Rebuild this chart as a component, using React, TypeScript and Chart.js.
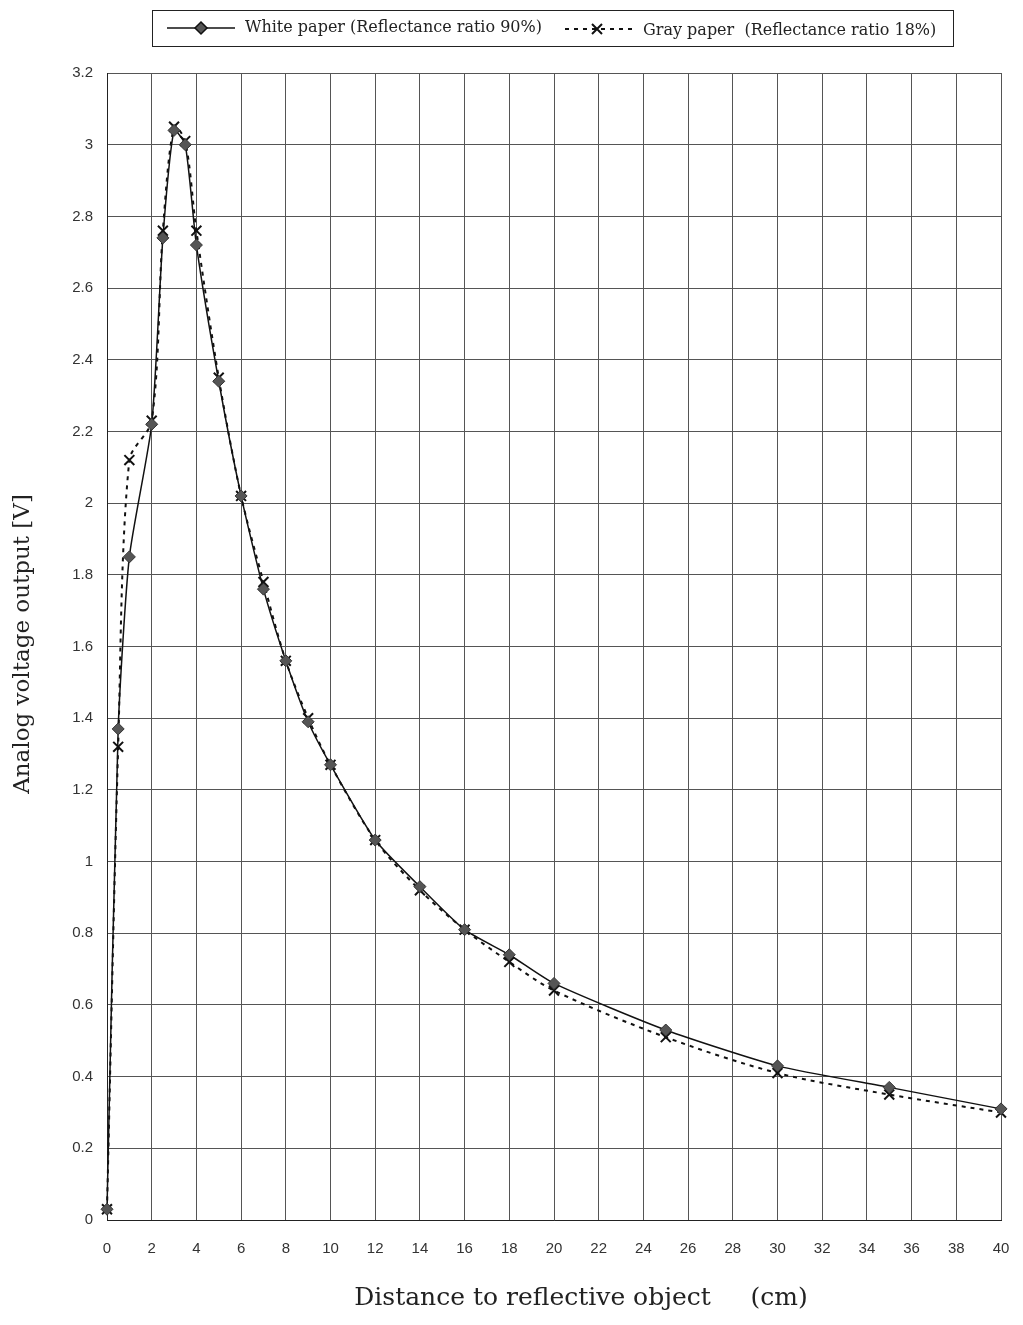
import React, { useEffect, useRef } from "react";
import { Chart, registerables } from "chart.js";

Chart.register(...registerables);

const distances = [0, 0.5, 1, 2, 2.5, 3, 3.5, 4, 5, 6, 7, 8, 9, 10, 12, 14, 16, 18, 20, 25, 30, 35, 40];
const whitePaper = [0.03, 1.37, 1.85, 2.22, 2.74, 3.04, 3.0, 2.72, 2.34, 2.02, 1.76, 1.56, 1.39, 1.27, 1.06, 0.93, 0.81, 0.74, 0.66, 0.53, 0.43, 0.37, 0.31];
const grayPaper = [0.03, 1.32, 2.12, 2.23, 2.76, 3.05, 3.01, 2.76, 2.35, 2.02, 1.78, 1.56, 1.4, 1.27, 1.06, 0.92, 0.81, 0.72, 0.64, 0.51, 0.41, 0.35, 0.3];
const whiteLabel = "White paper (Reflectance ratio 90%)";
const grayLabel = "Gray paper  (Reflectance ratio 18%)";
const xTitle = "Distance to reflective object     (cm)";
const yTitle = "Analog voltage output [V]";

const SERIF = "'DejaVu Serif', 'Liberation Serif', serif";
const SANS = "'Liberation Sans', Arial, sans-serif";

const decorPlugin = {
  id: "decor",
  afterDraw(chart: any) {
    const ctx = chart.ctx;
    ctx.save();
    // legend box
    ctx.strokeStyle = "#222";
    ctx.lineWidth = 1;
    ctx.strokeRect(152.5, 10.5, 801, 36);
    // white sample
    ctx.beginPath();
    ctx.moveTo(167, 28);
    ctx.lineTo(235, 28);
    ctx.lineWidth = 1.5;
    ctx.strokeStyle = "#111";
    ctx.setLineDash([]);
    ctx.stroke();
    ctx.fillStyle = "#555";
    ctx.beginPath();
    ctx.moveTo(201, 22);
    ctx.lineTo(207, 28);
    ctx.lineTo(201, 34);
    ctx.lineTo(195, 28);
    ctx.closePath();
    ctx.fill();
    ctx.stroke();
    // gray sample
    ctx.beginPath();
    ctx.setLineDash([4, 5]);
    ctx.lineWidth = 2;
    ctx.moveTo(565, 29);
    ctx.lineTo(632, 29);
    ctx.stroke();
    ctx.setLineDash([]);
    ctx.beginPath();
    ctx.moveTo(592, 24);
    ctx.lineTo(602, 34);
    ctx.moveTo(602, 24);
    ctx.lineTo(592, 34);
    ctx.stroke();
    ctx.fillStyle = "#222";
    ctx.font = "16px " + SERIF;
    ctx.textBaseline = "middle";
    ctx.textAlign = "left";
    ctx.fillText(whiteLabel, 245, 28);
    ctx.fillText(grayLabel, 643, 31);
    // axis titles
    ctx.font = "25px " + SERIF;
    ctx.textAlign = "center";
    ctx.fillText(xTitle, 581, 1298);
    ctx.save();
    ctx.font = "23px " + SERIF;
    ctx.translate(23, 644);
    ctx.rotate(-Math.PI / 2);
    ctx.fillText(yTitle, 0, 0);
    ctx.restore();
    ctx.restore();
  },
};

export default function App() {
  const ref = useRef<HTMLCanvasElement>(null);
  useEffect(() => {
    const chart = new Chart(ref.current!, {
      type: "line",
      data: {
        datasets: [
          {
            label: whiteLabel,
            data: distances.map((x, i) => ({ x, y: whitePaper[i] })),
            borderColor: "#111",
            borderWidth: 1.5,
            tension: 0.2,
            clip: false,
            pointStyle: "rectRot",
            pointRadius: 6,
            pointBackgroundColor: "#555",
            pointBorderColor: "#333",
            pointBorderWidth: 1,
          },
          {
            label: grayLabel,
            data: distances.map((x, i) => ({ x, y: grayPaper[i] })),
            borderColor: "#111",
            borderWidth: 2,
            borderDash: [4, 5],
            tension: 0.3,
            clip: false,
            pointStyle: "crossRot",
            pointRadius: 7,
            pointBorderColor: "#111",
            pointBorderWidth: 2,
          },
        ],
      },
      options: {
        animation: false,
        responsive: false,
        layout: { padding: { top: 73, right: 22, left: 0, bottom: 0 } },
        plugins: { legend: { display: false }, tooltip: { enabled: false } },
        scales: {
          x: {
            type: "linear",
            min: 0,
            max: 40,
            afterFit(scale: any) {
              scale.height = 105;
              scale.paddingRight = 0;
              scale.paddingLeft = 0;
            },
            ticks: {
              stepSize: 2,
              color: "#333",
              font: { family: SANS, size: 15 },
              padding: 20,
              maxRotation: 0,
            },
            grid: { color: "#555", lineWidth: 1, drawTicks: false },
            border: { color: "#222", width: 1 },
          },
          y: {
            min: 0,
            max: 3.2,
            afterFit(scale: any) {
              scale.width = 107;
              scale.paddingTop = 0;
              scale.paddingBottom = 0;
            },
            ticks: {
              stepSize: 0.2,
              color: "#333",
              font: { family: SANS, size: 15 },
              padding: 14,
              callback: (v: any) => String(Number(Number(v).toFixed(1))),
            },
            grid: { color: "#555", lineWidth: 1, drawTicks: false },
            border: { color: "#222", width: 1 },
          },
        },
      },
      plugins: [decorPlugin],
    } as any);
    return () => chart.destroy();
  }, []);
  return (
    <div style={{ position: "absolute", left: 0, top: 0, width: 1023, height: 1325, background: "#fff" }}>
      <canvas ref={ref} width={1023} height={1325} style={{ display: "block" }} />
    </div>
  );
}
